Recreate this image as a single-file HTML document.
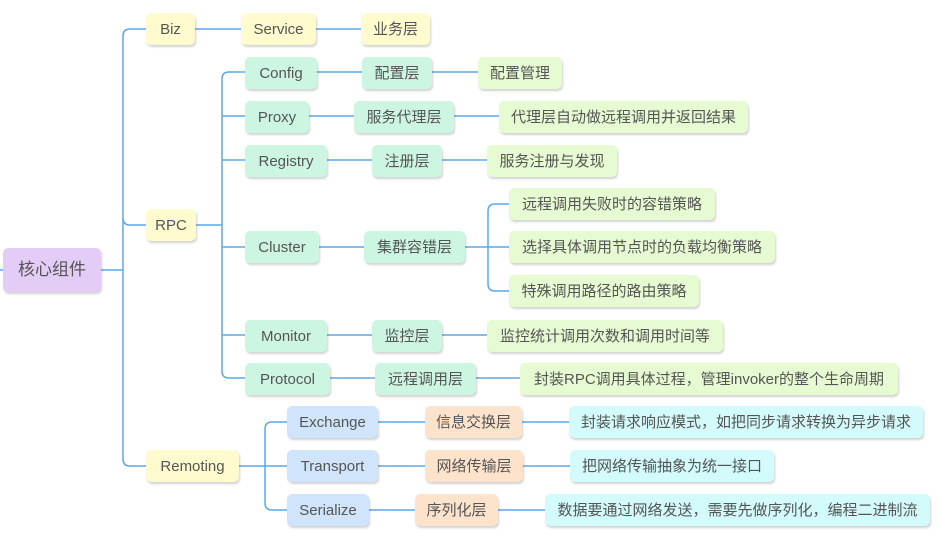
<!DOCTYPE html>
<html><head><meta charset="utf-8"><style>
body{margin:0;width:942px;height:542px;background:#fff;position:relative;overflow:hidden;font-family:"Liberation Sans","Noto Sans CJK SC",sans-serif;}
.b{position:absolute;height:32px;line-height:33px;text-align:center;font-size:15px;color:#555;border-radius:5px;box-shadow:1px 2px 2px rgba(0,0,0,0.18);white-space:nowrap;}
.y{background:#fefbcf}.g{background:#cdf6e2}.l{background:#e7fbd2}.bl{background:#d0e4fb}.o{background:#fde3cb}.c{background:#d3fbfb}
svg{position:absolute;left:0;top:0}
</style></head><body>
<svg width="942" height="542" fill="none" stroke="#5aa8ea" stroke-width="1.5">
<path d="M0 270H123M123 270V36Q123 29 130 29H146M123 270V218Q123 225 130 225H146M123 270V459Q123 466 130 466H146"/>
<path d="M195 29H241M316 29H361"/>
<path d="M196 225H222M222 225V79Q222 72 229 72H245M222 116H245M222 160H245M222 247H245M222 335H245M222 225V371Q222 378 229 378H245"/>
<path d="M317 72H362M432 72H478M309 116H354M454 116H499M327 160H372M442 160H487M319 247H364M327 335H372M442 335H487M330 378H375M476 378H520"/>
<path d="M465 247H509M488 247V211Q488 204 495 204H509M488 247V284Q488 291 495 291H509"/>
<path d="M239 466H287M265 466V429Q265 422 272 422H287M265 466V503Q265 510 272 510H287"/>
<path d="M378 422H425M522 422H569M378 466H425M523 466H570M369 510H415M498 510H545"/>
</svg>
<div class="b" style="left:3px;top:248px;width:98px;height:44px;line-height:44px;font-size:17px;background:#e3cdf6;">核心组件</div>
<div class="b y" style="left:146px;top:13px;width:49px">Biz</div>
<div class="b y" style="left:241px;top:13px;width:75px">Service</div>
<div class="b y" style="left:361px;top:13px;width:69px">业务层</div>
<div class="b y" style="left:146px;top:209px;width:50px">RPC</div>
<div class="b y" style="left:146px;top:450px;width:93px">Remoting</div>
<div class="b g" style="left:245px;top:57px;width:72px">Config</div>
<div class="b g" style="left:362px;top:57px;width:70px">配置层</div>
<div class="b l" style="left:478px;top:57px;width:84px">配置管理</div>
<div class="b g" style="left:245px;top:101px;width:64px">Proxy</div>
<div class="b g" style="left:354px;top:101px;width:100px">服务代理层</div>
<div class="b l" style="left:499px;top:101px;width:249px">代理层自动做远程调用并返回结果</div>
<div class="b g" style="left:245px;top:145px;width:82px">Registry</div>
<div class="b g" style="left:372px;top:145px;width:70px">注册层</div>
<div class="b l" style="left:487px;top:145px;width:130px">服务注册与发现</div>
<div class="b g" style="left:245px;top:231px;width:74px">Cluster</div>
<div class="b g" style="left:364px;top:231px;width:101px">集群容错层</div>
<div class="b l" style="left:509px;top:188px;width:206px">远程调用失败时的容错策略</div>
<div class="b l" style="left:509px;top:231px;width:266px">选择具体调用节点时的负载均衡策略</div>
<div class="b l" style="left:509px;top:275px;width:190px">特殊调用路径的路由策略</div>
<div class="b g" style="left:245px;top:320px;width:82px">Monitor</div>
<div class="b g" style="left:372px;top:320px;width:70px">监控层</div>
<div class="b l" style="left:487px;top:320px;width:236px">监控统计调用次数和调用时间等</div>
<div class="b g" style="left:245px;top:363px;width:85px">Protocol</div>
<div class="b g" style="left:375px;top:363px;width:101px">远程调用层</div>
<div class="b l" style="left:520px;top:363px;width:378px">封装RPC调用具体过程，管理invoker的整个生命周期</div>
<div class="b bl" style="left:287px;top:406px;width:91px">Exchange</div>
<div class="b o" style="left:425px;top:406px;width:97px">信息交换层</div>
<div class="b c" style="left:569px;top:406px;width:354px">封装请求响应模式，如把同步请求转换为异步请求</div>
<div class="b bl" style="left:287px;top:450px;width:91px">Transport</div>
<div class="b o" style="left:425px;top:450px;width:98px">网络传输层</div>
<div class="b c" style="left:570px;top:450px;width:204px">把网络传输抽象为统一接口</div>
<div class="b bl" style="left:287px;top:494px;width:82px">Serialize</div>
<div class="b o" style="left:415px;top:494px;width:83px">序列化层</div>
<div class="b c" style="left:545px;top:494px;width:385px">数据要通过网络发送，需要先做序列化，编程二进制流</div>
</body></html>
